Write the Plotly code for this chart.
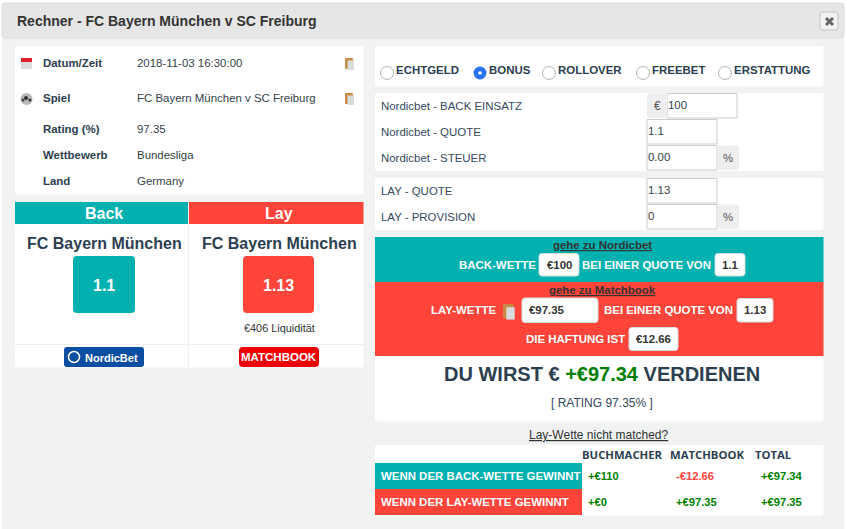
import plotly.graph_objects as go

# ---------- content ----------
TITLE = "Rechner - FC Bayern München v SC Freiburg"
info_labels = ["Datum/Zeit", "Spiel", "Rating (%)", "Wettbewerb", "Land"]
info_values = ["2018-11-03 16:30:00", "FC Bayern München v SC Freiburg", "97.35", "Bundesliga", "Germany"]
team = "FC Bayern München"
back_odds = "1.1"
lay_odds = "1.13"
liquidity = "€406 Liquidität"
radio_labels = ["ECHTGELD", "BONUS", "ROLLOVER", "FREEBET", "ERSTATTUNG"]
field_labels = ["Nordicbet - BACK EINSATZ", "Nordicbet - QUOTE", "Nordicbet - STEUER", "LAY - QUOTE", "LAY - PROVISION"]
field_values = ["100", "1.1", "0.00", "1.13", "0"]
table_headers = ["BUCHMACHER", "MATCHBOOK", "TOTAL"]
table_rows = ["WENN DER BACK-WETTE GEWINNT", "WENN DER LAY-WETTE GEWINNT"]
table_back = ["+€110", "-€12.66", "+€97.34"]
table_lay = ["+€0", "+€97.35", "+€97.35"]

TEAL, RED = "#00b1b0", "#ff4439"
DARK, GREEN = "#2c3e50", "#008000"
SANS = "Liberation Sans"
BASE = 11.45

shapes, notes = [], []


def box(x0, y0, x1, y1, fill, line=None, r=0, w=1):
    if r:
        p = (f"M{x0+r},{y0} L{x1-r},{y0} Q{x1},{y0} {x1},{y0+r} L{x1},{y1-r} Q{x1},{y1} {x1-r},{y1} "
             f"L{x0+r},{y1} Q{x0},{y1} {x0},{y1-r} L{x0},{y0+r} Q{x0},{y0} {x0+r},{y0} Z")
        shapes.append(dict(type="path", path=p, fillcolor=fill,
                           line=dict(color=line or fill, width=w if line else 0), layer="below"))
    else:
        shapes.append(dict(type="rect", x0=x0, y0=y0, x1=x1, y1=y1, fillcolor=fill,
                           line=dict(color=line or fill, width=w if line else 0), layer="below"))


def disc(cx, cy, r, fill, line=None, w=1):
    shapes.append(dict(type="circle", x0=cx-r, y0=cy-r, x1=cx+r, y1=cy+r, fillcolor=fill,
                       line=dict(color=line or fill, width=w if line else 0), layer="below"))


def seg(x0, y0, x1, y1, color, w=1):
    shapes.append(dict(type="line", x0=x0, y0=y0, x1=x1, y1=y1, line=dict(color=color, width=w), layer="below"))


def txt(x, y, s, size=BASE, color=DARK, bold=False, anchor="left", font=SANS, under=False):
    f = dict(family=font, size=size, color=color)
    if under:
        f["lineposition"] = "under"
    notes.append(dict(x=x, y=y, xref="x", yref="y", text=f"<b>{s}</b>" if bold else s, showarrow=False,
                      xanchor=anchor, yanchor="middle", font=f, borderpad=0, borderwidth=0))


def clip(x, y, k=1.0):
    box(x, y, x+8*k, y+11*k, "#c98a45", r=1)
    box(x+2.5*k, y+2.5*k, x+9*k, y+12*k, "#d8dcdc")


# ---------- modal ----------
box(2, 3, 844, 529, "#f1f3f3")
box(2, 3, 844, 38, "#e6e6e6", "#dcdcdc", r=3)
txt(17, 21, TITLE, size=14, color="#333333", bold=True)
box(820, 12, 838, 30, "#f2f2f2", "#c4c4c4", r=3)
seg(826, 18, 833, 25, "#666666", 3)
seg(833, 18, 826, 25, "#666666", 3)

# ---------- info panel ----------
box(15, 46, 363.5, 194.5, "#ffffff", r=2)
info_y = [63, 98, 129, 155, 181]
for lab, val, y in zip(info_labels, info_values, info_y):
    txt(43, y, lab, bold=True)
    txt(137, y, val, color="#333f48")
box(21, 58, 32, 69, "#dcdcdc")
box(21, 58, 32, 62, "#e0202a")
disc(26.5, 99, 6, "#b8b8b8")
disc(26, 98, 2, "#333333")
disc(30, 100, 1.5, "#333333")
disc(23, 100, 1.5, "#444444")
clip(345, 58)
clip(345, 93)

# ---------- back / lay panel ----------
box(15, 224, 363.5, 367.5, "#ffffff", r=2)
seg(188.5, 224, 188.5, 367, "#eeeeee")
seg(15, 344.5, 363, 344.5, "#eeeeee")
box(15, 202, 188, 224, TEAL)
box(189, 202, 363.5, 224, RED)
txt(104, 213, "Back", size=16, color="#ffffff", bold=True, anchor="center")
txt(279, 213, "Lay", size=16, color="#ffffff", bold=True, anchor="center")
txt(104.5, 243, team, size=16, bold=True, anchor="center")
txt(279, 243, team, size=16, bold=True, anchor="center")
box(73, 256, 135, 313, TEAL, r=4)
box(243, 256, 314, 313, RED, r=4)
txt(104, 285, back_odds, size=16, color="#ffffff", bold=True, anchor="center")
txt(278.5, 285, lay_odds, size=16, color="#ffffff", bold=True, anchor="center")
txt(279, 328, liquidity, size=10.9, color="#333333", anchor="center")
box(64, 347, 144, 367, "#0a4ea2", r=3)
disc(74, 357, 5.5, "#0a4ea2", "#ffffff", 1.5)
txt(85, 357.5, "NordicBet", size=11, color="#ffffff", bold=True)
box(239, 347, 319, 367, "#ee0000", r=4)
txt(279, 357, "MATCHBOOK", size=11.5, color="#ffffff", bold=True, anchor="center")

# ---------- radios ----------
box(375, 46, 823.5, 86.5, "#ffffff", r=2)
radio_cx = [387, 480, 549, 643, 725]
radio_tx = [396, 489, 558, 652, 734]
for i, (lab, cx, tx) in enumerate(zip(radio_labels, radio_cx, radio_tx)):
    if i == 1:
        disc(cx, 73, 6.5, "#2a73ee")
        disc(cx, 73, 1.8, "#ffffff")
    else:
        disc(cx, 73, 6.5, "#ffffff", "#b4b4b4")
    txt(tx, 69.5, lab, bold=True)

# ---------- inputs ----------
box(375, 93, 823.5, 171, "#ffffff", r=2)
box(375, 178, 823.5, 230, "#ffffff", r=2)
field_y = [106, 132, 158, 191, 217]
input_x0 = [667, 647, 647, 647, 647]
input_x1 = [737, 717, 717, 717, 717]
for lab, val, y, a, b in zip(field_labels, field_values, field_y, input_x0, input_x1):
    txt(381, y, lab, color="#34495e")
    box(a, y-12.5, b, y+12, "#ffffff", "#cccccc")
    txt(a+1, y-1, val, color="#333f48")
box(647, 93.5, 667, 118, "#eeeeee", r=3)
txt(657, 106, "€", size=12, color="#555555", anchor="center")
for y in (158, 217):
    box(717.5, y-12.5, 739, y+12, "#eeeeee", r=3)
    txt(728, y, "%", size=BASE, color="#555555", anchor="center")


# ---------- teal / red instructions ----------
def chip(x0, x1, y0, y1, s, left=None):
    box(x0, y0, x1, y1, "#ffffff", "#d5dde3", r=3)
    if left:
        txt(left, (y0+y1)/2, s, color="#333333", bold=True)
    else:
        txt((x0+x1)/2, (y0+y1)/2, s, color="#333333", bold=True, anchor="center")


box(375, 237, 823.5, 282, TEAL)
box(375, 282, 823.5, 356, RED)
txt(602, 245, "gehe zu Nordicbet", color="#333333", bold=True, anchor="center", under=True)
txt(459, 265, "BACK-WETTE", color="#ffffff", bold=True)
chip(539, 579, 253.5, 276, "€100")
txt(582, 265, "BEI EINER QUOTE VON", color="#ffffff", bold=True)
chip(715, 745, 253.5, 276, back_odds)
txt(602, 290, "gehe zu Matchbook", color="#333333", bold=True, anchor="center", under=True)
txt(431, 310, "LAY-WETTE", color="#ffffff", bold=True)
clip(503, 304, 1.3)
chip(522, 598, 298, 322.5, "€97.35", left=529)
txt(604, 310, "BEI EINER QUOTE VON", color="#ffffff", bold=True)
chip(737, 773, 298.5, 322, lay_odds)
txt(526, 339, "DIE HAFTUNG IST", color="#ffffff", bold=True)
chip(629, 678, 327.5, 350.5, "€12.66")

# ---------- result ----------
box(375, 356, 823.5, 421.5, "#ffffff", r=2)
txt(602, 374, f'DU WIRST € <span style="color:{GREEN}">+€97.34</span> VERDIENEN', size=20, bold=True, anchor="center")
txt(602, 403, "[ RATING 97.35% ]", size=12, color="#34495e", anchor="center")
txt(599, 435, "Lay-Wette nicht matched?", size=12, color="#333333", anchor="center", under=True)

# ---------- table ----------
box(375, 445, 823.5, 515.5, "#ffffff", r=2)
box(375, 463, 582, 489, TEAL)
box(375, 489, 582, 515, RED)
for s, x in zip(table_headers, [582, 670, 755]):
    txt(x, 454, s, size=11.3, bold=True, font="Open Sans")
for s, y, col in zip(table_rows, [476, 502], [TEAL, RED]):
    txt(381, y, s, color="#ffffff", bold=True)
for row, y in zip([table_back, table_lay], [476, 502]):
    for s, x in zip(row, [588, 676, 761]):
        txt(x, y, s, size=11.2, color=RED if s.startswith("-") else GREEN, bold=True)

fig = go.Figure()
fig.update_layout(
    width=847, height=529, margin=dict(l=0, r=0, t=0, b=0), autosize=False,
    paper_bgcolor="#ffffff", plot_bgcolor="#ffffff", showlegend=False,
    xaxis=dict(range=[0, 847], visible=False, fixedrange=True),
    yaxis=dict(range=[529, 0], visible=False, fixedrange=True),
    shapes=shapes, annotations=notes,
)
fig.write_html("out.html", config={"displayModeBar": False},
               post_script="document.body.style.margin='0';")
